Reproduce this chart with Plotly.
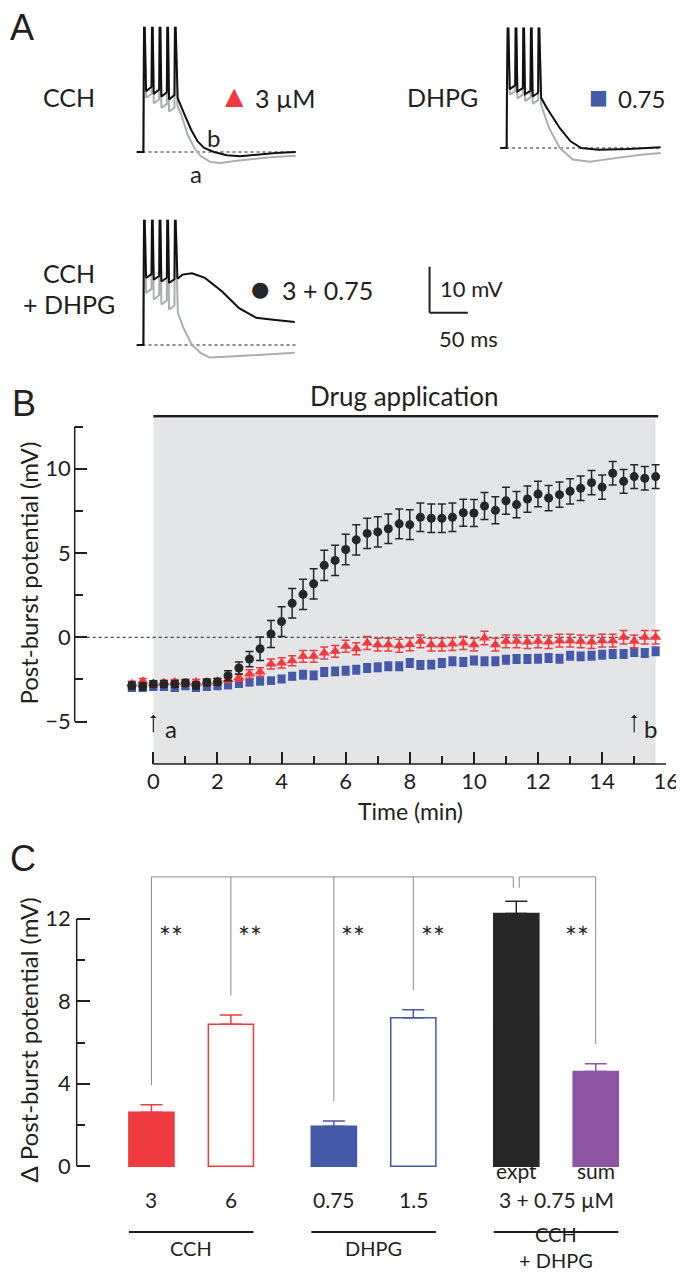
import plotly.graph_objects as go

W, H = 684, 1280
FONT = "Lato"
INK = "#231f20"
TRACE_GREY = "#acaeb1"
RED = "#ef3a40"
BLUE = "#4459a8"
DARK = "#262626"
PURPLE = "#8d55a3"
SHADE = "#e4e5e7"
BRACKET = "#8a8a8a"


def px(x):
    return x / W


def py(y):
    return 1 - y / H


# ---------------- panel A: example traces (ms, mV re. baseline) ----------------
CCH_CTRL_T = [0, 9, 9.4, 9.8, 10.8, 12.5, 19.6, 20.2, 21.2, 22.5, 29.6, 30.2, 31.2, 32.5,
              39.6, 40.2, 41.2, 42.5, 49.6, 50.2, 51.2, 53.5, 58.6, 66.7, 75.6, 84.2, 97,
              110, 130.8, 174, 208]
CCH_CTRL_V = [0, 0, 13, 27, 27, 11.8, 12.6, 27, 27, 10.6, 11.4, 27, 27, 9.6, 10.4, 27, 27,
              8.8, 9.6, 27, 27, 10.0, 8.1, 3.8, 0.87, -0.94, -2.2, -2.4, -1.9, -1.15, -0.8]
CCH_DRUG_T = [0, 9, 9.4, 9.8, 10.8, 12.5, 19.6, 20.2, 21.2, 22.5, 29.6, 30.2, 31.2, 32.5,
              39.6, 40.2, 41.2, 42.5, 49.6, 50.2, 51.2, 53.8, 62.8, 71.4, 79.9, 88.5, 101.3,
              118, 135.5, 156.4, 182, 208]
CCH_DRUG_V = [0, 0, 14, 27, 27, 13.2, 14.2, 27, 27, 12.6, 13.6, 27, 27, 12.0, 13.0, 27, 27,
              11.4, 12.4, 27, 27, 11.7, 8.1, 4.85, 2.3, 0.87, 0, -0.72, -0.94, -0.58, -0.22, 0]

DHPG_CTRL_T = [0, 8.5, 8.9, 9.8, 10.8, 12.5, 19.6, 20.2, 21.2, 22.5, 29.6, 30.2, 31.2, 32.5,
               39.6, 40.2, 41.2, 42.5, 49.6, 50.2, 51.2, 53.5, 64, 78, 95, 117, 150.6, 184, 210]
DHPG_CTRL_V = [0, 0, 13, 26, 26, 11.6, 12.4, 26, 26, 10.8, 11.6, 26, 26, 10.2, 11.0, 26, 26,
               9.6, 10.4, 26, 26, 9.4, 4.3, 0, -2.5, -3.0, -2.2, -1.45, -1.1]
DHPG_DRUG_T = [0, 8.5, 8.9, 9.8, 10.8, 12.5, 19.6, 20.2, 21.2, 22.5, 29.6, 30.2, 31.2, 32.5,
               39.6, 40.2, 41.2, 42.5, 49.6, 50.2, 51.2, 53.5, 61, 78, 92, 106, 128.6, 167.8, 209.7]
DHPG_DRUG_V = [0, 0, 13.8, 26, 26, 12.8, 13.6, 26, 26, 12.3, 13.0, 26, 26, 11.7, 12.4, 26, 26,
               11.2, 12.0, 26, 26, 10.9, 8.7, 4.3, 1.45, 0, -0.37, -0.2, 0.15]

BOTH_CTRL_T = [0, 9, 9.4, 9.8, 10.8, 12.5, 19.6, 20.2, 21.2, 22.5, 29.6, 30.2, 31.2, 32.5,
               39.6, 40.2, 41.2, 42.5, 49.6, 50.2, 51.2, 54, 61.4, 72.6, 83.7, 94.9, 123, 167.7, 206.8]
BOTH_CTRL_V = [0, 0, 13, 27, 27, 11.3, 12.2, 27, 27, 9.9, 10.8, 27, 27, 8.8, 9.7, 27, 27,
               7.7, 8.6, 27, 27, 7.0, 3.7, 0, -1.7, -2.7, -2.5, -2.0, -1.7]
BOTH_DRUG_T = [0, 9, 9.4, 9.8, 10.8, 12.5, 19.6, 20.2, 21.2, 22.5, 29.6, 30.2, 31.2, 32.5,
               39.6, 40.2, 41.2, 42.5, 49.6, 50.2, 51.2, 53.5, 60, 72.6, 89.4, 111.5, 134,
               156.4, 178.8, 206.8]
BOTH_DRUG_V = [0, 0, 15.5, 27, 27, 14.6, 15.4, 27, 27, 14.2, 15.0, 27, 27, 13.8, 14.6, 27, 27,
               13.5, 14.3, 27, 27, 14.4, 15.3, 15.6, 14.6, 11.7, 8.0, 5.9, 5.5, 5.0]

TRACE_END_MS = 208
SCALE_T0, SCALE_V0, SCALE_MS, SCALE_MV = 383, 7, 50, 10

# ---------------- panel B: time course ----------------
TIME_MIN = [-0.67, -0.33, 0, 0.33, 0.67, 1, 1.33, 1.67, 2, 2.33, 2.67, 3, 3.33, 3.67, 4,
            4.33, 4.67, 5, 5.33, 5.67, 6, 6.33, 6.67, 7, 7.33, 7.67, 8, 8.33, 8.67, 9,
            9.33, 9.67, 10, 10.33, 10.67, 11, 11.33, 11.67, 12, 12.33, 12.67, 13, 13.33,
            13.67, 14, 14.33, 14.67, 15, 15.33, 15.67]
CCH_MEAN = [-2.75, -2.6, -2.75, -2.7, -2.65, -2.7, -2.65, -2.7, -2.6, -2.5, -2.4, -2.18,
            -2.06, -1.58, -1.52, -1.39, -1.13, -1.13, -0.93, -0.83, -0.53, -0.68, -0.34,
            -0.44, -0.44, -0.5, -0.42, -0.24, -0.44, -0.44, -0.4, -0.34, -0.44, -0.04,
            -0.44, -0.24, -0.24, -0.28, -0.24, -0.28, -0.2, -0.2, -0.24, -0.28, -0.2,
            -0.2, 0, -0.24, 0, 0]
CCH_SEM = [0.15, 0.15, 0.15, 0.15, 0.15, 0.15, 0.15, 0.15, 0.15, 0.2, 0.2, 0.25, 0.25,
           0.3, 0.3, 0.3, 0.35, 0.35, 0.35, 0.35, 0.35, 0.35, 0.38, 0.38, 0.38, 0.38,
           0.38, 0.38, 0.38, 0.38, 0.38, 0.38, 0.38, 0.4, 0.38, 0.38, 0.38, 0.38, 0.38,
           0.38, 0.38, 0.38, 0.38, 0.38, 0.38, 0.38, 0.4, 0.38, 0.4, 0.4]
DHPG_MEAN = [-3.0, -3.0, -2.95, -2.95, -3.0, -2.9, -3.0, -2.95, -2.9, -2.85, -2.77, -2.67,
             -2.61, -2.57, -2.47, -2.31, -2.22, -2.26, -2.06, -2.02, -1.98, -1.92, -1.82,
             -1.78, -1.72, -1.72, -1.52, -1.64, -1.62, -1.52, -1.42, -1.46, -1.38, -1.42,
             -1.42, -1.33, -1.29, -1.29, -1.27, -1.23, -1.27, -1.09, -1.13, -1.09, -1.03,
             -0.99, -0.99, -0.87, -0.93, -0.83]
DHPG_SEM = [0.15, 0.15, 0.15, 0.15, 0.15, 0.15, 0.15, 0.15, 0.15, 0.18, 0.18, 0.2, 0.2,
            0.2, 0.22, 0.22, 0.25, 0.25, 0.25, 0.25, 0.25, 0.25, 0.25, 0.25, 0.25, 0.25,
            0.25, 0.25, 0.25, 0.25, 0.25, 0.25, 0.25, 0.25, 0.25, 0.25, 0.25, 0.25, 0.25,
            0.25, 0.25, 0.25, 0.25, 0.25, 0.25, 0.25, 0.25, 0.25, 0.25, 0.25]
BOTH_MEAN = [-2.87, -2.91, -2.77, -2.77, -2.77, -2.71, -2.85, -2.67, -2.65, -2.28, -1.82,
             -1.29, -0.68, 0.2, 0.93, 2.02, 2.55, 3.17, 4.27, 4.56, 5.21, 5.78, 6.16, 6.25,
             6.44, 6.73, 6.68, 7.12, 7.06, 7.06, 7.12, 7.39, 7.37, 7.79, 7.53, 8.1, 7.87,
             8.2, 8.5, 8.26, 8.46, 8.66, 8.84, 9.17, 8.91, 9.73, 9.25, 9.53, 9.43, 9.53]
BOTH_SEM = [0.2, 0.2, 0.2, 0.2, 0.2, 0.2, 0.2, 0.2, 0.2, 0.3, 0.35, 0.45, 0.7, 0.8, 0.88,
            0.88, 0.9, 0.9, 0.9, 0.9, 0.9, 0.9, 0.9, 0.9, 0.88, 0.88, 0.88, 0.85, 0.85,
            0.85, 0.85, 0.8, 0.8, 0.8, 0.8, 0.8, 0.78, 0.78, 0.75, 0.75, 0.75, 0.75, 0.72,
            0.72, 0.72, 0.7, 0.7, 0.7, 0.7, 0.7]
DRUG_START, DRUG_END = 0, 15.67

# ---------------- panel C: summary bars ----------------
BAR_LABELS = ["3", "6", "0.75", "1.5", "expt", "sum"]
BAR_MEAN = [2.62, 6.88, 1.94, 7.2, 12.25, 4.6]
BAR_SEM = [0.36, 0.46, 0.26, 0.39, 0.6, 0.37]
BAR_GROUP = [0, 0, 1, 1, 2, 2]
BAR_MEMBER = [0, 1, 0, 1, 0, 1]
BAR_EDGE = [RED, RED, BLUE, BLUE, DARK, PURPLE]
BAR_FILL = [RED, "white", BLUE, "white", DARK, PURPLE]
GROUP_NAMES = [["CCH"], ["DHPG"], ["CCH", "+ DHPG"]]
COMPARED = [0, 1, 2, 3, 5]

GROUP_STEP = 2.296
BAR_W = 0.568
bar_pos = [g * GROUP_STEP + m for g, m in zip(BAR_GROUP, BAR_MEMBER)]

fig = go.Figure()

# panel A traces
examples = [
    ("x2", "y2", CCH_CTRL_T, CCH_CTRL_V, CCH_DRUG_T, CCH_DRUG_V),
    ("x3", "y3", DHPG_CTRL_T, DHPG_CTRL_V, DHPG_DRUG_T, DHPG_DRUG_V),
    ("x4", "y4", BOTH_CTRL_T, BOTH_CTRL_V, BOTH_DRUG_T, BOTH_DRUG_V),
]
shapes = []
for xa, ya, ct, cv, dt, dv in examples:
    fig.add_trace(go.Scatter(x=ct, y=cv, mode="lines", xaxis=xa, yaxis=ya,
                             line=dict(color=TRACE_GREY, width=2), hoverinfo="skip"))
    fig.add_trace(go.Scatter(x=dt, y=dv, mode="lines", xaxis=xa, yaxis=ya,
                             line=dict(color="#111111", width=2), hoverinfo="skip"))
    shapes.append(dict(type="line", xref=xa, yref=ya, x0=0, x1=TRACE_END_MS, y0=0, y1=0,
                       line=dict(color=INK, width=1, dash="dot"), layer="below"))

# scale bar
shapes.append(dict(type="line", xref="x4", yref="y4", x0=SCALE_T0, x1=SCALE_T0,
                   y0=SCALE_V0, y1=SCALE_V0 + SCALE_MV, line=dict(color=INK, width=2)))
shapes.append(dict(type="line", xref="x4", yref="y4", x0=SCALE_T0, x1=SCALE_T0 + SCALE_MS,
                   y0=SCALE_V0, y1=SCALE_V0, line=dict(color=INK, width=2)))

# panel B
B_TOP = 13.185
shapes.append(dict(type="rect", xref="x", yref="y", x0=DRUG_START, x1=DRUG_END,
                   y0=-7.515, y1=12.98, fillcolor=SHADE, line=dict(width=0), layer="below"))
shapes.append(dict(type="line", xref="x", yref="y", x0=-2.453, x1=15.8, y0=0, y1=0,
                   line=dict(color=INK, width=1, dash="dot"), layer="below"))
shapes.append(dict(type="line", xref="x", yref="y", x0=DRUG_START, x1=15.75, y0=B_TOP - 0.08,
                   y1=B_TOP - 0.08, line=dict(color=INK, width=2.5)))
shapes.append(dict(type="line", xref="x domain", yref="y", x0=0, x1=0, y0=-5, y1=12.5,
                   line=dict(color=INK, width=1.5)))
shapes.append(dict(type="line", xref="x", yref="y domain", x0=0, x1=16, y0=0, y1=0,
                   line=dict(color=INK, width=1.5)))

series = [
    (DHPG_MEAN, DHPG_SEM, BLUE, "square", 8),
    (CCH_MEAN, CCH_SEM, RED, "triangle-up", 10),
    (BOTH_MEAN, BOTH_SEM, DARK, "circle", 9),
]
for mean, sem, col, sym, size in series:
    fig.add_trace(go.Scatter(
        x=TIME_MIN, y=mean, mode="markers", xaxis="x", yaxis="y",
        marker=dict(symbol=sym, size=size, color=col, line=dict(width=0)),
        error_y=dict(type="data", array=sem, color=col, thickness=1.5, width=4),
        hoverinfo="skip"))

# panel C
for i in range(len(BAR_MEAN)):
    fig.add_trace(go.Bar(
        x=[bar_pos[i]], y=[BAR_MEAN[i]], width=BAR_W, xaxis="x5", yaxis="y5",
        marker=dict(color=BAR_FILL[i], line=dict(color=BAR_EDGE[i], width=1.5)),
        error_y=dict(type="data", symmetric=False, array=[BAR_SEM[i]], arrayminus=[0],
                     color=BAR_EDGE[i], thickness=1.5, width=11),
        hoverinfo="skip"))

BRACKET_V, NOTCH_V, DROP_GAP, NOTCH_DX = 14.03, 13.5, 0.95, 0.037
expt = bar_pos[4]
bl = dict(color=BRACKET, width=1)
shapes += [
    dict(type="line", xref="x5", yref="y5", x0=bar_pos[0], x1=expt - NOTCH_DX,
         y0=BRACKET_V, y1=BRACKET_V, line=bl),
    dict(type="line", xref="x5", yref="y5", x0=expt - NOTCH_DX, x1=expt - NOTCH_DX,
         y0=BRACKET_V, y1=NOTCH_V, line=bl),
    dict(type="line", xref="x5", yref="y5", x0=expt + NOTCH_DX, x1=bar_pos[5],
         y0=BRACKET_V, y1=BRACKET_V, line=bl),
    dict(type="line", xref="x5", yref="y5", x0=expt + NOTCH_DX, x1=expt + NOTCH_DX,
         y0=BRACKET_V, y1=NOTCH_V, line=bl),
]
for i in COMPARED:
    shapes.append(dict(type="line", xref="x5", yref="y5", x0=bar_pos[i], x1=bar_pos[i],
                       y0=BRACKET_V, y1=BAR_MEAN[i] + BAR_SEM[i] + DROP_GAP, line=bl))
shapes.append(dict(type="line", xref="x5 domain", yref="y5", x0=0, x1=0, y0=0, y1=12,
                   line=dict(color=INK, width=1.5)))
for g in range(3):
    members = [p for p, gg in zip(bar_pos, BAR_GROUP) if gg == g]
    shapes.append(dict(type="line", xref="x5", yref="paper", x0=min(members) - BAR_W / 2,
                       x1=max(members) + BAR_W / 2, y0=py(1224), y1=py(1224),
                       line=dict(color=INK, width=2)))


def label(text, x, y, size=24, color=INK, family=FONT, **kw):
    d = dict(text=text, x=px(x), y=py(y), xref="paper", yref="paper", showarrow=False,
             font=dict(family=family, size=size, color=color),
             xanchor="center", yanchor="middle")
    d.update(kw)
    return d


ann = [
    label("A", 14, 19, size=36, family="Liberation Sans"),
    label("B", 16, 396, size=36, family="Liberation Sans"),
    label("C", 15, 850, size=36, family="Liberation Sans"),
    label("CCH", 62, 89, size=25),
    label("▲", 231, 88, size=24, color=RED, family="DejaVu Sans"),
    label("3 µM", 282, 90, size=25),
    label("DHPG", 443, 89, size=25),
    label("■", 602, 89, size=20, color=BLUE, family="DejaVu Sans"),
    label("0.75", 646, 90, size=24),
    label("b", 209, 129),
    label("a", 192, 166),
    label("CCH", 62, 265, size=25),
    label("+ DHPG", 62, 296, size=25),
    label("●", 257, 281, size=21, color=DARK, family="DejaVu Sans"),
    label("3 + 0.75", 326, 282, size=25),
    label("10 mV", 472, 280, size=22),
    label("50 ms", 469, 330, size=22),
    label("Drug application", 404, 388, size=26),
    label("Post-burst potential (mV)", 20, 565, size=24, textangle=-90),
    label("Time (min)", 410, 803, size=23),
    label("a", 166, 720),
    label("b", 655, 720),
    label("Δ Post-burst potential (mV)", 20, 1032, size=24, textangle=-90),
]
for t_arrow in [0, 15]:
    ann.append(dict(text="", x=t_arrow, y=-4.6, xref="x", yref="y", ax=0, ay=19,
                    showarrow=True, arrowhead=1, arrowsize=0.9, arrowwidth=1.2,
                    arrowcolor=INK))

txt = dict(family=FONT, size=21, color=INK)
for i in COMPARED:
    side = -0.23 if BAR_MEMBER[i] == 1 and BAR_GROUP[i] == 2 else 0.245
    ann.append(dict(text="**", x=bar_pos[i] + side, y=11.1, xref="x5", yref="y5",
                    showarrow=False, font=dict(family=FONT, size=28, color=INK)))
for i, lab in enumerate(BAR_LABELS):
    y_lab = 1177 if BAR_GROUP[i] == 2 else 1206
    ann.append(dict(text=lab, x=bar_pos[i], y=py(y_lab), xref="x5", yref="paper",
                    showarrow=False, font=txt))
ann.append(dict(text="3 + 0.75 µM", x=(bar_pos[4] + bar_pos[5]) / 2, y=py(1206), xref="x5",
                yref="paper", showarrow=False, font=txt))
grp_font = dict(family=FONT, size=20, color=INK)
for g, lines in enumerate(GROUP_NAMES):
    members = [p for p, gg in zip(bar_pos, BAR_GROUP) if gg == g]
    rows = [1254] if len(lines) == 1 else [1240, 1266]
    for line_text, y_row in zip(lines, rows):
        ann.append(dict(text=line_text, x=sum(members) / 2, y=py(y_row), xref="x5",
                        yref="paper", showarrow=False, font=grp_font))

tick_font = dict(family=FONT, size=22, color=INK)
hidden = dict(visible=False, showgrid=False, zeroline=False)
MS_PX, MV_PX = 0.78, 4.6

fig.update_layout(
    width=W, height=H, margin=dict(l=0, r=0, t=0, b=0),
    paper_bgcolor="white", plot_bgcolor="rgba(0,0,0,0)", showlegend=False,
    shapes=shapes, annotations=ann,
    xaxis=dict(domain=[px(68), px(671)], range=[-2.453, 16], anchor="y",
               tickvals=[0, 2, 4, 6, 8, 10, 12, 14, 16], ticks="inside", ticklen=12,
               tickwidth=1.5, tickcolor=INK, tickfont=tick_font, ticklabelstandoff=2,
               minor=dict(tickvals=[1, 3, 5, 7, 9, 11, 13, 15], ticks="inside", ticklen=8,
                          tickwidth=1.5, tickcolor=INK),
               showline=False, showgrid=False, zeroline=False),
    yaxis=dict(domain=[py(756), py(407)], range=[-7.515, B_TOP], anchor="x",
               tickvals=[-5, 0, 5, 10], ticks="inside", ticklen=12, tickwidth=1.5,
               tickcolor=INK, tickfont=tick_font, ticklabelstandoff=3,
               minor=dict(tickvals=[-2.5, 2.5, 7.5, 12.5], ticks="inside", ticklen=8,
                          tickwidth=1.5, tickcolor=INK),
               showline=False, showgrid=False, zeroline=False),
    xaxis2=dict(domain=[px(131), px(131 + 215 * MS_PX)], range=[0, 215], anchor="y2", **hidden),
    yaxis2=dict(domain=[py(144 + 6 * MV_PX), py(144 - 29 * MV_PX)], range=[-6, 29],
                anchor="x2", **hidden),
    xaxis3=dict(domain=[px(501.7), px(501.7 + 215 * MS_PX)], range=[0, 215], anchor="y3",
                **hidden),
    yaxis3=dict(domain=[py(140 + 6 * MV_PX), py(140 - 29 * MV_PX)], range=[-6, 29],
                anchor="x3", **hidden),
    xaxis4=dict(domain=[px(131), px(131 + 500 * MS_PX)], range=[0, 500], anchor="y4", **hidden),
    yaxis4=dict(domain=[py(337 + 6 * MV_PX), py(337 - 29 * MV_PX)], range=[-6, 29],
                anchor="x4", **hidden),
    xaxis5=dict(domain=[px(70), 1], range=[-0.941, 6.640], anchor="y5", **hidden),
    yaxis5=dict(domain=[py(1178.9), py(859.2)], range=[-1, 14.5], anchor="x5",
                tickvals=[0, 4, 8, 12], ticks="inside", ticklen=13, tickwidth=1.5,
                tickcolor=INK, tickfont=tick_font, ticklabelstandoff=5,
                minor=dict(tickvals=[2, 6, 10], ticks="inside", ticklen=8, tickwidth=1.5,
                           tickcolor=INK),
                showline=False, showgrid=False, zeroline=False),
)

fig.write_html("out.html")
